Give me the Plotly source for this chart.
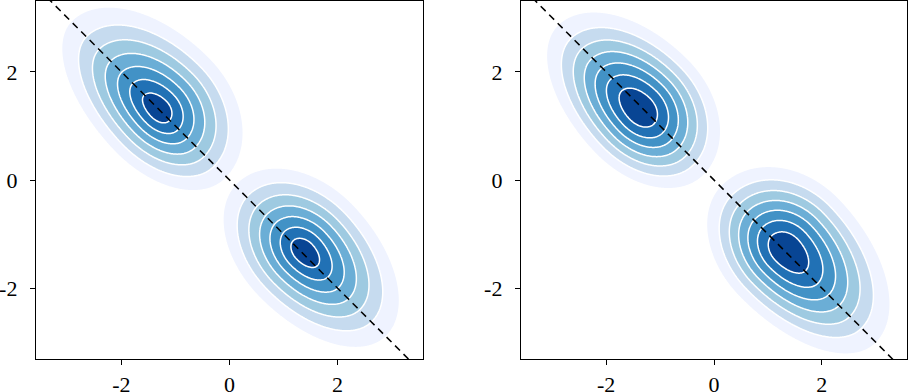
import numpy as np
import plotly.graph_objects as go

# ---- data ----
# each panel has two blobs: [upper-left blob, lower-right blob]
# reaches are in axis units, measured from the peak to where the density vanishes
left_peak_x = [-1.32, 1.38]
left_peak_y = [1.30, -1.33]
left_reach_upleft = [2.55, 1.98]      # along the diagonal, toward upper-left
left_reach_downright = [1.98, 2.42]   # along the diagonal, toward lower-right
left_reach_upright = [1.50, 1.40]     # across the diagonal, toward upper-right
left_reach_downleft = [1.24, 1.31]    # across the diagonal, toward lower-left
left_shape = [1.2, 1.4]               # profile exponents (p, q)

right_peak_x = [-1.38, 1.33]
right_peak_y = [1.30, -1.30]
right_reach_upleft = [2.44, 1.90]
right_reach_downright = [1.90, 2.68]
right_reach_upright = [1.45, 1.54]
right_reach_downleft = [1.29, 1.36]
right_shape = [1.5, 1.6]

axis_angle_deg = -46.0

# iso-proportion levels (fraction of peak density)
level_start = 0.05
level_count = 7
band_colors = ["#eff3ff", "#c6dbef", "#9ecae1", "#6baed6", "#4292c6", "#2171b5", "#084594"]

tick_vals = [-2, 0, 2]
tick_text = ["-2", "0", "2"]
diag_x = [-4.0, 4.0]
diag_y = [4.0, -4.0]

# ---- build density surfaces ----
gx = np.linspace(-3.7, 3.7, 421)
gy = np.linspace(-3.7, 3.7, 421)
X, Y = np.meshgrid(gx, gy)
th = np.deg2rad(axis_angle_deg)
c, s = np.cos(th), np.sin(th)


def scaled_dist(a, b, s_ul, s_dr, s_ur, s_dl):
    u = (X - a) * c + (Y - b) * s        # along diagonal (+ toward lower-right)
    v = -(X - a) * s + (Y - b) * c       # across diagonal (+ toward upper-right)
    su = np.where(u > 0, s_dr, s_ul)
    sv = np.where(v > 0, s_ur, s_dl)
    return np.sqrt((u / su) ** 2 + (v / sv) ** 2)


def density(px, py, r_ul, r_dr, r_ur, r_dl, shape):
    p, q = shape
    z = np.zeros_like(X)
    for a, b, p1, p2, p3, p4 in zip(px, py, r_ul, r_dr, r_ur, r_dl):
        d = scaled_dist(a, b, p1, p2, p3, p4)
        z += np.clip(1.0 - d ** p, 0.0, None) ** q
    return z / z.max()


Z_left = density(left_peak_x, left_peak_y, left_reach_upleft, left_reach_downright,
                 left_reach_upright, left_reach_downleft, left_shape)
Z_right = density(right_peak_x, right_peak_y, right_reach_upleft, right_reach_downright,
                  right_reach_upright, right_reach_downleft, right_shape)

size = (1.0 - level_start) / level_count
nb = level_count
colors_all = ["rgba(255,255,255,0)"] + band_colors
cscale = []
for k, col in enumerate(colors_all):
    lo = max(0.0, (k - 0.5) / nb)
    hi = min(1.0, (k + 0.5) / nb)
    cscale.append([lo, col])
    cscale.append([hi, col])

fig = go.Figure()
for i, Z in enumerate([Z_left, Z_right]):
    xa = "x" if i == 0 else "x2"
    ya = "y" if i == 0 else "y2"
    fig.add_trace(go.Contour(
        x=gx, y=gy, z=Z,
        xaxis=xa, yaxis=ya,
        contours=dict(start=level_start, end=level_start + size * (level_count - 1) + 1e-9,
                      size=size, coloring="fill"),
        colorscale=cscale,
        line=dict(color="white", width=1.5, smoothing=1),
        showscale=False, hoverinfo="skip",
    ))
    fig.add_trace(go.Scatter(
        x=diag_x, y=diag_y, xaxis=xa, yaxis=ya, mode="lines",
        line=dict(color="black", width=1.5, dash="7px,5px"),
        showlegend=False, hoverinfo="skip",
    ))

axis_common = dict(
    showgrid=False, zeroline=False, showline=True, mirror=True, automargin=False,
    linecolor="black", linewidth=1.3, ticks="outside", ticklen=5,
    tickwidth=1.2, tickcolor="black", tickvals=tick_vals, ticktext=tick_text,
    tickfont=dict(family="Liberation Serif", size=22, color="black"),
)

L, R, T, B = 36, 3, 1, 33
W, H = 910, 392
pw = W - L - R
fig.update_layout(
    width=W, height=H,
    margin=dict(l=L, r=R, t=T, b=B),
    paper_bgcolor="white", plot_bgcolor="white",
    showlegend=False,
    xaxis=dict(domain=[0, (423 - L) / pw], range=[-3.58, 3.58], anchor="y", **axis_common),
    yaxis=dict(domain=[0, 1], range=[-3.31, 3.31], anchor="x", ticklabelstandoff=8, **axis_common),
    xaxis2=dict(domain=[(521 - L) / pw, 1.0], range=[-3.58, 3.58], anchor="y2", **axis_common),
    yaxis2=dict(domain=[0, 1], range=[-3.31, 3.31], anchor="x2", ticklabelstandoff=8, **axis_common),
)

fig.write_html("out.html", config={"displayModeBar": False},
               post_script="document.body.style.margin='0';document.body.style.overflow='hidden';")
